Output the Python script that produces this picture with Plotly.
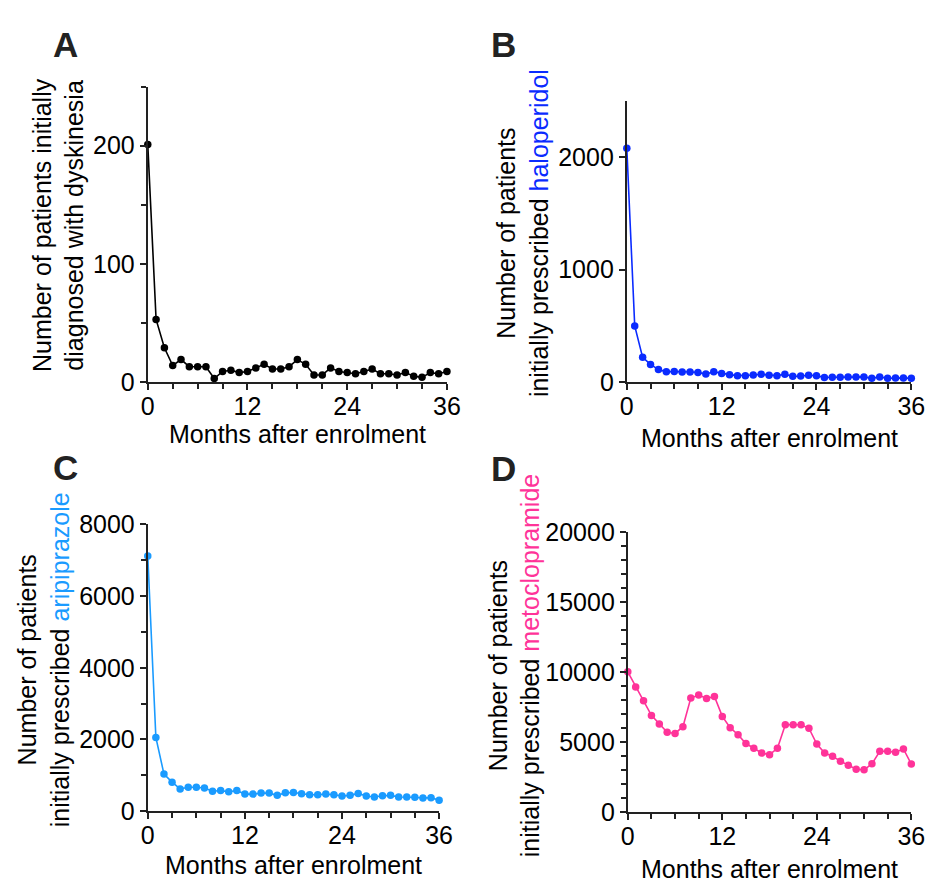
import plotly.graph_objects as go

months = list(range(37))

dyskinesia = [201, 53, 29, 14, 19, 13, 13, 13, 3, 9, 10, 8, 9, 12, 15, 11, 11, 13, 19, 15,
              6, 6, 12, 9, 8, 7, 9, 11, 7, 7, 6, 8, 5, 4, 8, 7, 9]
haloperidol = [2080, 500, 220, 157, 111, 91, 94, 89, 89, 86, 71, 91, 77, 66, 57, 57, 63, 69, 60, 57,
               69, 51, 54, 60, 57, 40, 43, 43, 46, 46, 46, 34, 46, 34, 37, 37, 34]
aripiprazole = [7120, 2058, 1034, 809, 620, 665, 665, 647, 557, 575, 539, 575, 476, 476, 503, 503,
                440, 512, 521, 485, 458, 458, 476, 458, 422, 440, 494, 422, 395, 431, 440, 395,
                395, 386, 368, 377, 306]
metoclopramide = [10020, 8940, 7950, 6910, 6290, 5710, 5620, 6100, 8150, 8360, 8120, 8260, 6840,
                  6030, 5530, 4900, 4560, 4220, 4100, 4560, 6240, 6240, 6240, 5990, 4860, 4220,
                  3990, 3640, 3340, 3060, 3020, 3450, 4350, 4350, 4280, 4510, 3430]

x_ticks = [0, 12, 24, 36]
x_tick_labels = ["0", "12", "24", "36"]

W, H = 939, 891
AXC = "#222222"
FONT = "Liberation Sans, Arial, sans-serif"
FS = 25

def px_x(a, b):
    return [a / W, b / W]

def px_y(top, bottom):
    return [1 - bottom / H, 1 - top / H]

panels = [
    (dyskinesia, "#000000", (144, 450), (75, 380), [0, 250], [0, 100, 200], 50),
    (haloperidol, "#0a2bff", (634, 925), (90, 380), [0, 2500], [0, 1000, 2000], None),
    (aripiprazole, "#1a9bff", (144, 442), (527, 823), [0, 8000], [0, 2000, 4000, 6000, 8000], 1000),
    (metoclopramide, "#ff3399", (635, 925), (535, 824), [0, 20000], [0, 5000, 10000, 15000, 20000], 1000),
]

fig = go.Figure()
layout = dict(
    width=W, height=H, margin=dict(l=0, r=0, t=0, b=0),
    paper_bgcolor="white", plot_bgcolor="white", showlegend=False,
    font=dict(family=FONT, size=FS, color="#000000"),
)

for i, (vals, col, xd, yd, yr, yt, ymin) in enumerate(panels):
    n = "" if i == 0 else str(i + 1)
    fig.add_trace(go.Scatter(
        x=months, y=vals, mode="lines+markers",
        line=dict(color=col, width=1.6),
        marker=dict(color=col, size=7.5),
        xaxis="x" + n, yaxis="y" + n, cliponaxis=False,
    ))
    xa = dict(
        domain=px_x(*xd), range=[0, 36], anchor="y" + n,
        tickmode="array", tickvals=x_ticks, ticktext=x_tick_labels,
        showline=True, linecolor=AXC, linewidth=2, showgrid=False, zeroline=False,
        ticks="outside", ticklen=6, tickwidth=2, tickcolor=AXC,
        ticklabelstandoff=-5,
        tickfont=dict(size=FS, family=FONT, color="#000"),
        minor=dict(dtick=3, tick0=0, ticks="outside", ticklen=5, tickwidth=2, tickcolor=AXC, showgrid=False),
        fixedrange=True,
    )
    ya = dict(
        domain=px_y(*yd), range=yr, anchor="x" + n,
        tickmode="array", tickvals=yt, ticktext=[str(v) for v in yt],
        showline=True, linecolor=AXC, linewidth=2, showgrid=False, zeroline=False,
        ticks="outside", ticklen=6, tickwidth=2, tickcolor=AXC,
        tickfont=dict(size=FS, family=FONT, color="#000"),
        fixedrange=True,
    )
    if ymin:
        ya["minor"] = dict(dtick=ymin, tick0=0, ticks="outside", ticklen=5, tickwidth=2,
                           tickcolor=AXC, showgrid=False)
    layout["xaxis" + n] = xa
    layout["yaxis" + n] = ya

fig.update_layout(**layout)

def ann(text, x, y, size=FS, angle=0, color="#000"):
    fig.add_annotation(
        text=text, x=x / W, y=1 - y / H, xref="paper", yref="paper",
        xanchor="center", yanchor="middle", showarrow=False, textangle=angle,
        font=dict(family=FONT, size=size, color=color),
    )

# panel letters
for lab, x, y in [("A", 60, 31), ("B", 508, 31), ("C", 60, 468), ("D", 508, 469)]:
    ann("<b>" + lab + "</b>", x, y, size=35, color="#222")

# x titles
for x, y in [(297, 434), (780, 438), (293, 879), (780, 883)]:
    ann("Months after enrolment", x, y)

# y titles
ann("Number of patients initially<br>diagnosed with dyskinesia", 52, 218, angle=-90)
ann("Number of patients<br>initially prescribed <span style='color:#0a2bff'>haloperidol</span>",
    528, 226, angle=-90)
ann("Number of patients<br>initially prescribed <span style='color:#1a9bff'>aripiprazole</span>",
    37, 667, angle=-90)
ann("Number of patients<br>initially prescribed <span style='color:#ff3399'>metoclopramide</span>",
    519, 672, angle=-90)

fig.write_html("out.html", config={"displayModeBar": False},
               post_script="document.body.style.margin='0';document.body.style.overflow='hidden';")
